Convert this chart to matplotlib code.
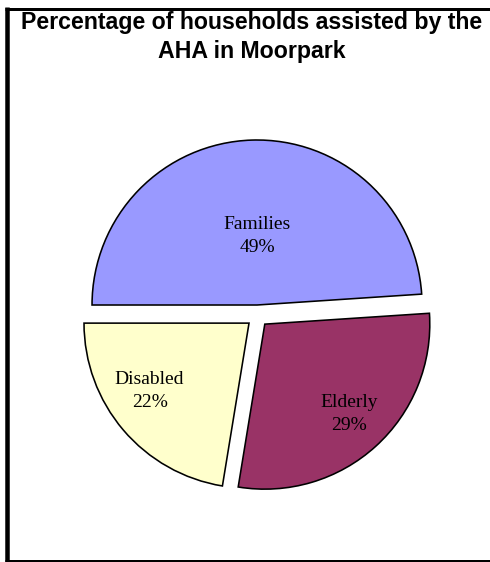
import numpy as np
import matplotlib.pyplot as plt

labels = ['Families', 'Elderly', 'Disabled']
shares = [48.9, 28.6, 22.4]
colors = ['#9999FF', '#993366', '#FFFFCC']
title = 'Percentage of households assisted by the\nAHA in Moorpark'

# label placement (angle in degrees, distance as fraction of radius)
label_angle = [90, -46.7, -145.6]
label_dist = [0.42, 0.745, 0.73]

W, H = 490, 562
fig = plt.figure(figsize=(W / 100, H / 100), dpi=100)
ax = fig.add_axes([0, 0, 1, 1])

cx, cy, r = 257.4, H - 316, 165
px = 72 / 100  # points per pixel

pct = np.array(shares) / sum(shares) * 100
wedges, texts = ax.pie(
    shares, colors=colors, startangle=180, counterclock=False,
    explode=[11] * 3, radius=r, center=(cx, cy), frame=False,
    labels=[f'{l}\n{p:.0f}%' for l, p in zip(labels, pct)],
    labeldistance=0.5,
    wedgeprops=dict(edgecolor='black', linewidth=1.6 * px),
    textprops=dict(family='Liberation Serif', fontsize=14, ha='center',
                   va='center', multialignment='center', linespacing=1.45),
)

for w, t, a, d in zip(wedges, texts, label_angle, label_dist):
    wx, wy = w.center
    t.set_position((wx + d * r * np.cos(np.radians(a)),
                    wy + d * r * np.sin(np.radians(a))))
    t.set_horizontalalignment('center')
    t.set_verticalalignment('center')

ax.set_xlim(0, W)
ax.set_ylim(0, H)
ax.set_aspect('equal')
ax.axis('off')

# chart frame
ax.plot([7.25, 7.25], [H - 7, H - 562], color='black', lw=4.5 * px,
        solid_capstyle='butt', clip_on=False)
ax.plot([5, W], [H - 8.5, H - 8.5], color='black', lw=3 * px,
        solid_capstyle='butt', clip_on=False)
ax.plot([5, W], [H - 560.5, H - 560.5], color='black', lw=3 * px,
        solid_capstyle='butt', clip_on=False)

ax.text(252, H - 37, title, family='Liberation Sans', fontweight='bold',
        fontsize=16.7, ha='center', va='center', linespacing=1.3)

fig.savefig('out.png', dpi=100)
